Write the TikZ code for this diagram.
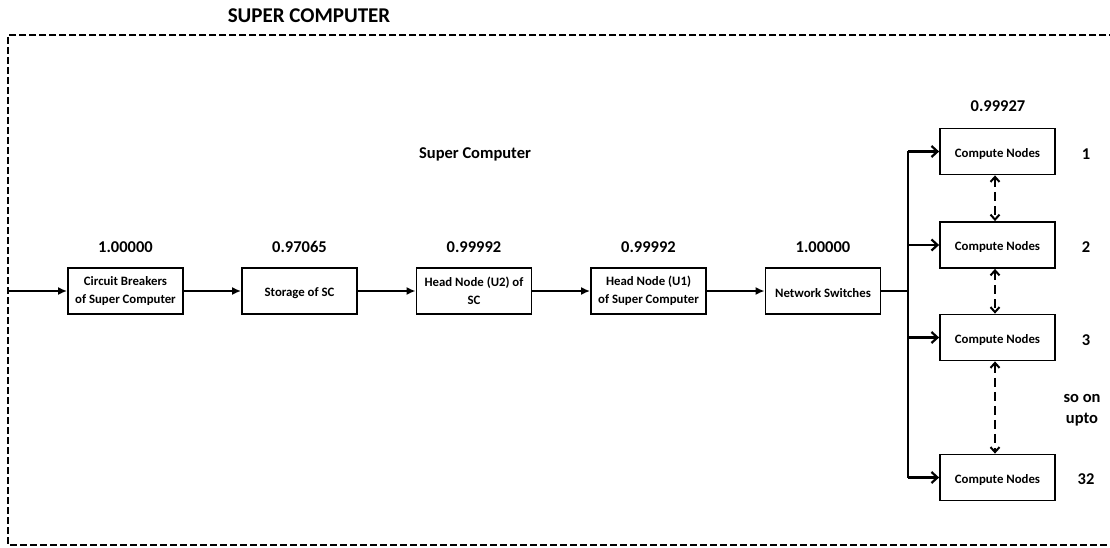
\documentclass[tikz,border=0pt]{standalone}
\usepackage{fontspec}
\setmainfont{Carlito}
\usetikzlibrary{arrows.meta}
\begin{document}
\begin{tikzpicture}[x=1pt,y=-1pt,
  blk/.style={draw,line width=1.8pt,minimum width=115pt,minimum height=46pt,inner sep=0pt,align=center,font=\bfseries\fontsize{12.8}{18}\selectfont,execute at begin node={\rule{0pt}{14pt}}},
  num/.style={font=\bfseries\fontsize{16.5}{18}\selectfont},
  conn/.style={line width=2.8pt,-{Latex[length=9pt,width=8pt]}},
  brn/.style={line width=2.8pt,-{Straight Barb[length=6pt,width=11pt,line width=2.2pt]}},
  dbl/.style={line width=2.4pt,dash pattern=on 9pt off 5pt,{Straight Barb[length=5pt,width=9pt,line width=2pt]}-{Straight Barb[length=5pt,width=9pt,line width=2pt]}},
  frame/.style={line width=1.6pt,dash pattern=on 7pt off 3pt}]
\useasboundingbox (0,0) rectangle (1110,548);
\draw[frame] (1116,35) -- (8,35) -- (8,545) -- (1116,545);
\node[font=\bfseries\fontsize{21}{23}\selectfont] (title) at (309,15.5) {SUPER COMPUTER};
\node[font=\bfseries\fontsize{16.5}{18}\selectfont] (sub) at (475,154) {Super Computer};
\node[blk] (b1) at (125.5,291) {Circuit Breakers\\of Super Computer};
\node[blk] (b2) at (299.5,291) {Storage of SC};
\node[blk] (b3) at (474,291) {Head Node (U2) of\\SC};
\node[blk] (b4) at (648.5,291) {Head Node (U1)\\of Super Computer};
\node[blk] (b5) at (823,291) {Network Switches};
\node[num] (n1) at (125.5,247) {1.00000};
\node[num] (n2) at (299.5,247) {0.97065};
\node[num] (n3) at (474,247) {0.99992};
\node[num] (n4) at (648.5,247) {0.99992};
\node[num] (n5) at (823,247) {1.00000};
\coordinate (in) at (8,291);
\draw[conn] (in) -- (b1);
\draw[conn] (b1) -- (b2);
\draw[conn] (b2) -- (b3);
\draw[conn] (b3) -- (b4);
\draw[conn] (b4) -- (b5);
\node[blk] (c1) at (997.5,151.5) {Compute Nodes};
\node[blk] (c2) at (997.5,245) {Compute Nodes};
\node[blk] (c3) at (997.5,337.5) {Compute Nodes};
\node[blk] (c4) at (997.5,477.5) {Compute Nodes};
\node[num] (rel) at (998,106) {0.99927};
\node[num] (l1) at (1086,154) {1};
\node[num] (l2) at (1086,247) {2};
\node[num] (l3) at (1086,340) {3};
\node[num] (l32) at (1086,479) {32};
\node[num,align=center,font=\bfseries\fontsize{16.5}{21}\selectfont] (soon) at (1082,410) {so on\\upto};
\coordinate (bt) at (908,151.5);
\coordinate (bb) at (908,477.5);
\coordinate (bm) at (908,291);
\draw[line width=2.8pt] (b5.east) -- (bm);
\draw[line width=2.8pt] (bt) -- (bb);
\draw[brn] (bt) -- (c1.west);
\draw[brn] (908,245) -- (c2.west);
\draw[brn] (908,337.5) -- (c3.west);
\draw[brn] (bb) -- (c4.west);
\draw[dbl] ([xshift=-2.5pt]c1.south) -- ([xshift=-2.5pt]c2.north);
\draw[dbl] ([xshift=-2.5pt]c2.south) -- ([xshift=-2.5pt]c3.north);
\draw[dbl] ([xshift=-2.5pt]c3.south) -- ([xshift=-2.5pt]c4.north);
\end{tikzpicture}
\end{document}
